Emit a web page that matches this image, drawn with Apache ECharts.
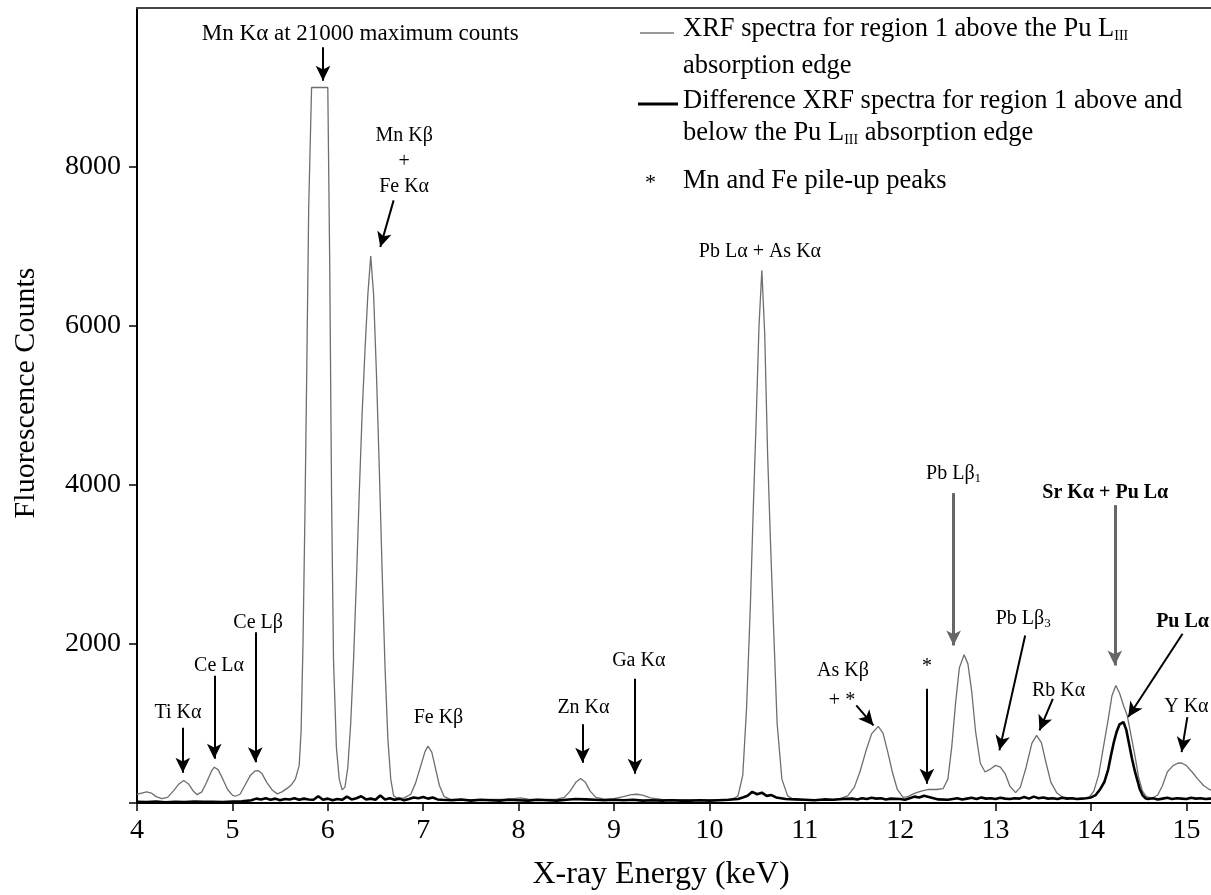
<!DOCTYPE html>
<html><head><meta charset="utf-8">
<script src="https://cdn.jsdelivr.net/npm/echarts@6/dist/echarts.min.js"></script>
<style>html,body{margin:0;padding:0;background:#fff}#c{width:1211px;height:895px}</style>
</head><body><div id="c"></div>
<script>
// Energy (keV), counts — XRF spectrum, region 1 above Pu LIII edge
const xrfSpectrum = [
[4.00,110],[4.05,125],[4.10,140],[4.15,125],[4.20,80],[4.26,55],[4.32,70],[4.38,150],[4.44,240],[4.49,282],[4.54,240],[4.59,150],[4.63,105],[4.68,140],[4.73,260],[4.78,400],[4.81,450],[4.85,420],[4.90,300],[4.95,170],[5.00,100],[5.03,85],[5.08,110],[5.13,220],[5.19,350],[5.24,405],[5.27,408],[5.31,370],[5.36,260],[5.42,160],[5.47,115],[5.52,140],[5.58,190],[5.62,230],[5.66,300],[5.70,470],[5.72,900],[5.74,2000],[5.76,3600],[5.78,5500],[5.80,7500],[5.83,9000],[5.90,9000],[6.00,9000],[6.02,6800],[6.04,3800],[6.06,1800],[6.09,700],[6.12,300],[6.15,165],[6.18,200],[6.21,450],[6.24,1000],[6.27,1800],[6.30,2800],[6.33,3900],[6.36,4900],[6.39,5700],[6.42,6400],[6.45,6880],[6.48,6400],[6.51,5400],[6.54,4200],[6.57,2900],[6.60,1700],[6.63,800],[6.66,300],[6.69,90],[6.73,60],[6.80,65],[6.87,110],[6.92,250],[6.97,450],[7.02,650],[7.05,716],[7.09,640],[7.13,430],[7.17,220],[7.22,80],[7.28,50],[7.40,45],[7.55,40],[7.70,45],[7.85,45],[7.95,55],[8.02,65],[8.10,50],[8.25,45],[8.40,50],[8.48,70],[8.54,150],[8.60,260],[8.65,307],[8.70,260],[8.75,150],[8.81,70],[8.90,50],[9.00,55],[9.10,80],[9.18,105],[9.24,110],[9.30,100],[9.38,65],[9.50,45],[9.65,40],[9.80,35],[9.95,35],[10.10,40],[10.20,40],[10.26,60],[10.30,90],[10.35,350],[10.39,1200],[10.43,2500],[10.46,3700],[10.49,4800],[10.52,6000],[10.55,6700],[10.58,5900],[10.61,4400],[10.64,3300],[10.67,2300],[10.71,1000],[10.76,300],[10.82,90],[10.88,45],[11.00,35],[11.15,40],[11.30,45],[11.37,55],[11.45,90],[11.52,200],[11.58,400],[11.64,650],[11.70,870],[11.77,964],[11.82,880],[11.87,640],[11.92,380],[11.97,170],[12.03,70],[12.08,80],[12.15,120],[12.22,150],[12.30,170],[12.38,170],[12.45,180],[12.50,300],[12.54,700],[12.58,1250],[12.62,1700],[12.67,1865],[12.71,1750],[12.75,1400],[12.79,900],[12.84,500],[12.89,390],[12.95,430],[13.00,473],[13.05,450],[13.10,370],[13.15,210],[13.21,130],[13.26,200],[13.32,450],[13.38,750],[13.43,850],[13.48,760],[13.53,500],[13.58,260],[13.64,130],[13.70,75],[13.80,60],[13.90,50],[13.98,70],[14.03,150],[14.08,350],[14.13,700],[14.18,1050],[14.22,1350],[14.26,1479],[14.30,1380],[14.34,1230],[14.38,1100],[14.42,850],[14.46,600],[14.50,320],[14.54,150],[14.58,80],[14.64,60],[14.70,100],[14.75,220],[14.80,390],[14.86,470],[14.91,500],[14.95,503],[15.00,470],[15.06,390],[15.12,300],[15.18,220],[15.24,170],[15.30,150]
];
// Difference spectrum (above minus below the Pu LIII edge)
const differenceSpectrum = [
[4.00,15],[4.10,12],[4.20,18],[4.30,10],[4.40,15],[4.50,12],[4.60,18],[4.70,14],[4.80,16],[4.90,12],[5.00,18],[5.10,20],[5.20,35],[5.25,55],[5.30,45],[5.35,60],[5.40,40],[5.45,55],[5.50,35],[5.55,50],[5.60,45],[5.65,60],[5.70,40],[5.75,55],[5.80,45],[5.85,40],[5.90,85],[5.95,40],[6.00,55],[6.05,35],[6.10,50],[6.15,40],[6.20,80],[6.25,45],[6.30,60],[6.35,85],[6.40,45],[6.45,55],[6.50,40],[6.55,95],[6.60,45],[6.65,60],[6.70,40],[6.75,55],[6.80,35],[6.85,50],[6.90,70],[6.95,60],[7.00,75],[7.05,55],[7.10,70],[7.15,45],[7.20,40],[7.30,35],[7.40,45],[7.50,30],[7.60,40],[7.70,35],[7.80,30],[7.90,40],[8.00,35],[8.10,30],[8.20,40],[8.30,35],[8.40,30],[8.50,40],[8.60,50],[8.70,45],[8.80,40],[8.90,35],[9.00,40],[9.10,35],[9.20,40],[9.30,30],[9.40,35],[9.50,30],[9.60,35],[9.70,30],[9.80,30],[9.90,35],[10.00,30],[10.10,35],[10.20,40],[10.30,50],[10.35,70],[10.40,90],[10.45,140],[10.50,110],[10.55,130],[10.60,90],[10.65,100],[10.70,70],[10.75,60],[10.80,50],[10.90,45],[11.00,40],[11.10,35],[11.20,45],[11.30,40],[11.40,50],[11.50,55],[11.55,45],[11.60,60],[11.65,50],[11.70,65],[11.75,55],[11.80,60],[11.85,45],[11.90,55],[12.00,50],[12.05,40],[12.10,60],[12.15,80],[12.20,70],[12.25,90],[12.30,75],[12.35,60],[12.40,45],[12.50,40],[12.55,50],[12.60,60],[12.65,45],[12.70,55],[12.75,65],[12.80,50],[12.85,70],[12.90,55],[12.95,60],[13.00,50],[13.05,65],[13.10,55],[13.15,50],[13.20,60],[13.25,55],[13.30,75],[13.35,55],[13.40,80],[13.45,60],[13.50,70],[13.55,55],[13.60,60],[13.65,50],[13.70,65],[13.75,55],[13.80,60],[13.85,50],[13.90,55],[13.95,60],[14.00,70],[14.05,100],[14.10,180],[14.14,264],[14.18,420],[14.21,600],[14.24,767],[14.27,900],[14.30,990],[14.34,1018],[14.37,920],[14.40,740],[14.43,557],[14.46,400],[14.49,270],[14.51,180],[14.54,100],[14.57,60],[14.60,50],[14.65,60],[14.70,45],[14.75,55],[14.80,65],[14.85,50],[14.90,60],[14.95,55],[15.00,50],[15.05,65],[15.10,55],[15.15,60],[15.20,50],[15.25,55],[15.30,60]
];
// Peak labels: [energy, counts, text, bold, fontSize]
const peakLabels = [
[6.34,9673,'Mn Kα at 21000 maximum counts',false,23],
[6.80,8397,'Mn Kβ',false,20],
[6.80,8060,'+',false,20],
[6.80,7746,'Fe Kα',false,20],
[4.43,1137,'Ti Kα',false,20],
[4.86,1726,'Ce Lα',false,20],
[5.27,2273,'Ce Lβ',false,20],
[7.16,1074,'Fe Kβ',false,20],
[8.68,1200,'Zn Kα',false,20],
[9.26,1793,'Ga Kα',false,20],
[10.53,6930,'Pb Lα + As Kα',false,20],
[11.40,1668,'As Kβ',false,20],
[11.39,1290,'+ *',false,20],
[12.28,1710,'*',false,20],
[12.56,4146,'Pb Lβ{s|1}',false,20],
[13.29,2317,'Pb Lβ{s|3}',false,20],
[13.66,1416,'Rb Kα',false,20],
[14.15,3902,'Sr Kα + Pu Lα',true,20],
[14.96,2275,'Pu Lα',true,20],
[15.00,1207,'Y Kα',false,20]
];
// Arrows: [fromEnergy, fromCounts, toEnergy, toCounts, grey]
const peakArrows = [
[5.95,9505,5.95,9086,false],
[6.69,7580,6.55,6993,false],
[4.48,947,4.48,379,false],
[4.81,1600,4.81,556,false],
[5.24,2147,5.24,514,false],
[8.67,989,8.67,505,false],
[9.22,1563,9.22,369,false],
[11.54,1228,11.72,976,false],
[12.28,1437,12.28,243,false],
[12.56,3898,12.56,1982,true],
[13.31,2108,13.04,662,false],
[13.60,1311,13.46,913,false],
[14.25,3747,14.25,1730,true],
[14.96,2128,14.39,1081,false],
[15.01,1081,14.95,641,false]
];
const xTickValues = [4,5,6,7,8,9,10,11,12,13,14,15];
const yTickValues = [0,2000,4000,6000,8000];
const yLabelValues = [2000,4000,6000,8000];

const FONT = 'Liberation Serif';
const chart = echarts.init(document.getElementById('c'), null, {renderer:'canvas'});
const subRich = {s:{fontSize:13,fontFamily:FONT,color:'#000',verticalAlign:'bottom',padding:[10,0,0,0]}};
chart.setOption({
  animation:false,
  backgroundColor:'#fff',
  grid:{left:137, top:8, width:1078, height:795, show:false, outerBoundsMode:'none', containLabel:false},
  xAxis:[{type:'value', min:4, max:15.3, interval:1,
    axisLine:{lineStyle:{color:'#000',width:2}},
    axisTick:{show:true,length:8,customValues:xTickValues,lineStyle:{color:'#000',width:1.5}},
    axisLabel:{fontSize:28,fontFamily:FONT,color:'#000',margin:14,customValues:xTickValues,formatter:v=>String(v)},
    splitLine:{show:false},
    name:'X-ray Energy (keV)', nameLocation:'middle', nameGap:56,
    nameTextStyle:{fontSize:32,fontFamily:FONT,color:'#000',padding:[0,30,0,0]}},
   {type:'value', position:'top', min:4, max:15.3,
    axisLine:{show:true,lineStyle:{color:'#444',width:2}},
    axisTick:{show:false}, axisLabel:{show:false}, splitLine:{show:false}}],
  yAxis:{type:'value', min:0, max:10000, interval:2000,
    axisLine:{show:true,lineStyle:{color:'#000',width:2}},
    axisTick:{show:true,length:8,customValues:yTickValues,lineStyle:{color:'#000',width:1.5}},
    axisLabel:{fontSize:28,fontFamily:FONT,color:'#000',margin:16,customValues:yLabelValues,formatter:v=>String(v)},
    splitLine:{show:false},
    name:'Fluorescence Counts', nameLocation:'middle', nameGap:96,
    nameTextStyle:{fontSize:30,fontFamily:FONT,color:'#000',padding:[0,0,0,25]}},
  series:[
    {name:'XRF', type:'line', data:xrfSpectrum, showSymbol:false, symbol:'none',
      lineStyle:{color:'#6e6e6e',width:1.3}, z:3},
    {name:'Difference', type:'line', data:differenceSpectrum, showSymbol:false, symbol:'none',
      lineStyle:{color:'#000',width:2.6}, z:4},
    {name:'labels', type:'scatter', symbolSize:0, silent:true, z:5,
      itemStyle:{opacity:1},
      data:peakLabels.map(p=>({value:[p[0],p[1]], label:{formatter:p[2], fontWeight:p[3]?'bold':'normal', fontSize:p[4]}})),
      label:{show:true, position:[0,0], align:'center', verticalAlign:'middle', fontSize:20, fontFamily:FONT, color:'#000', opacity:1, rich:subRich},
      markLine:{silent:true, symbol:['none','arrow'], symbolSize:[11,15], animation:false, precision:4,
        label:{show:false}, emphasis:{disabled:true},
        lineStyle:{color:'#000',width:2,type:'solid',opacity:1},
        data:peakArrows.map(a=>[
          {coord:[a[0],a[1]], lineStyle:{color:a[4]?'#666':'#000', width:a[4]?3:2}},
          {coord:[a[2],a[3]]}
        ])}
    }
  ],
  graphic:[
    {type:'line', shape:{x1:640,y1:33,x2:674,y2:33}, style:{stroke:'#777',lineWidth:1.5}},
    {type:'text', left:683, top:16, style:{text:'XRF spectra for region 1 above the Pu L{s|III}', font:'26.5px "Liberation Serif"', fill:'#000', rich:{s:{fontSize:14,fontFamily:FONT,verticalAlign:'bottom',padding:[12,0,0,0]}}}},
    {type:'text', left:683, top:53, style:{text:'absorption edge', font:'26.5px "Liberation Serif"', fill:'#000'}},
    {type:'line', shape:{x1:638,y1:104,x2:678,y2:104}, style:{stroke:'#000',lineWidth:3}},
    {type:'text', left:683, top:88, style:{text:'Difference XRF spectra for region 1 above and', font:'26.5px "Liberation Serif"', fill:'#000'}},
    {type:'text', left:683, top:120, style:{text:'below the Pu L{s|III} absorption edge', font:'26.5px "Liberation Serif"', fill:'#000', rich:{s:{fontSize:14,fontFamily:FONT,verticalAlign:'bottom',padding:[14,0,0,0]}}}},
    {type:'text', left:645, top:172, style:{text:'*', font:'22px "Liberation Serif"', fill:'#000'}},
    {type:'text', left:683, top:168, style:{text:'Mn and Fe pile-up peaks', font:'26.5px "Liberation Serif"', fill:'#000'}}
  ]
});
</script></body></html>
